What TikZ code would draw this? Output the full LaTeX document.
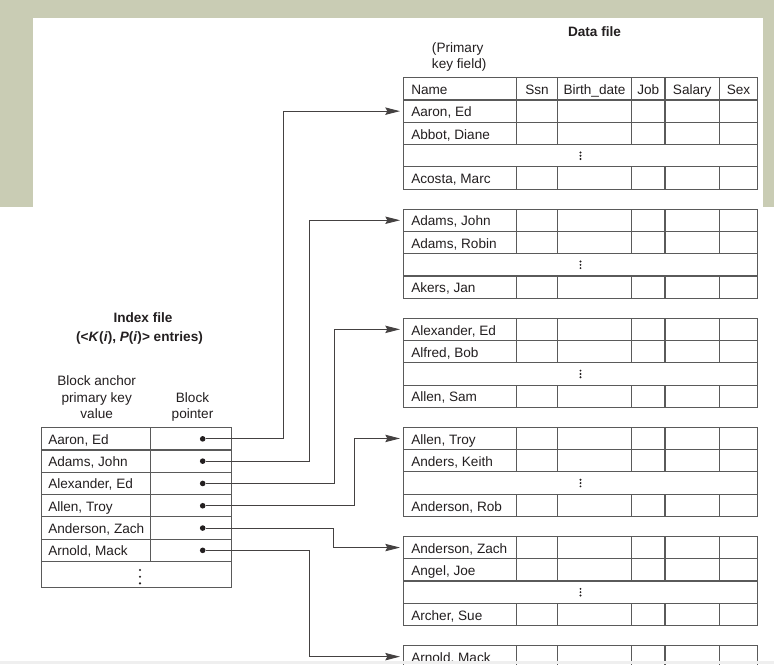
\documentclass[tikz,border=0pt]{standalone}
\usepackage{fontspec}
\setmainfont{Liberation Sans}
\usetikzlibrary{arrows.meta,positioning,calc}
\definecolor{paper}{HTML}{C9CCB4}
\definecolor{ink}{HTML}{231F20}
\definecolor{rule}{HTML}{5A5A5A}
\definecolor{strip}{HTML}{EFEFEF}
\tikzset{tab/.style={draw=rule,line width=0.8pt},ptr/.style={draw=ink!85,line width=0.7pt,-{Stealth[length=11pt,width=5.5pt,inset=1.5pt]}},dot/.style={circle,fill=ink,inner sep=0pt,minimum size=4.2pt},cell/.style={anchor=base west,inner sep=0pt,text=ink},head/.style={anchor=base,inner sep=0pt,text=ink},title/.style={anchor=base,inner sep=0pt,font=\fontsize{10.2}{12.2}\selectfont\bfseries,text=ink}}
\newcommand{\vdt}[4]{\foreach \dd in {-1,0,1} \fill[ink] (#1,#2+#3*\dd) circle (#4);}

\begin{document}
\begin{tikzpicture}[x=0.75pt,y=-0.75pt,font=\fontsize{10.2}{12.2}\selectfont]
  \clip (0,0) rectangle (774,664);
  % backdrop and page
  \fill[paper] (0,0) rectangle (774,664);
  \fill[white] (33,18) rectangle (763,207.3);
  \fill[white] (0,207.3) rectangle (774,664);
  % data file heading
  \node[title] (dtitle) at (594.5,36) {Data file};
  \node[cell,align=left] (keynote) at (431.7,68.3) {(Primary\\key field)};
  \draw[tab] (403.3,77.3) rectangle (757.7,100);
  \foreach \cx in {516.7,557.3,631.7,665,719.3} \draw[tab] (\cx,77.3) -- (\cx,100);
  \node[cell] (hname) at (411,94.5) {Name};
  \foreach \cx/\lbl [count=\c] in {537/Ssn,594.5/Birth\_date,648.3/Job,692.2/Salary,738.5/Sex}
    \node[head] (h\c) at (\cx,94.5) {\lbl};
  % data blocks
  \foreach \k/\ra/\rb/\rc in {1/{Aaron, Ed}/{Abbot, Diane}/{Acosta, Marc},2/{Adams, John}/{Adams, Robin}/{Akers, Jan},3/{Alexander, Ed}/{Alfred, Bob}/{Allen, Sam},4/{Allen, Troy}/{Anders, Keith}/{Anderson, Rob},5/{Anderson, Zach}/{Angel, Joe}/{Archer, Sue},6/{Arnold, Mack}/{}/{}} {
    \pgfmathsetmacro\T{100+109.1*(\k-1)}
    \draw[tab] (403.3,\T) rectangle (757.7,\T+89.2);
    \foreach \r in {1,2,3} \draw[tab] (403.3,\T+22.3*\r) -- (757.7,\T+22.3*\r);
    \foreach \cx in {516.7,557.3,631.7,665,719.3} {
      \draw[tab] (\cx,\T) -- (\cx,\T+44.6);
      \draw[tab] (\cx,\T+66.9) -- (\cx,\T+89.2);
    }
    \node[cell] (na\k) at (411,\T+16.8) {\ra};
    \node[cell] (nb\k) at (411,\T+39.1) {\rb};
    \node[cell] (nc\k) at (411,\T+83.7) {\rc};
    \vdt{580.5}{\T+55.75}{3.3}{0.8pt}
    \coordinate (b\k) at (400,\T+11.15);
  }
  % index file
  \node[title] (ititle) at (143,322.3) {Index file};
  \node[title] (isub) at (139.5,341.5) {(<\textit{K}(\textit{i}), \textit{P}(\textit{i})> entries)};
  \node[head,align=center] (anchorhd) at (96.7,418.3) {Block anchor\\primary key\\value};
  \node[head,align=center] (ptrhd) at (192.5,418.3) {Block\\pointer};
  \draw[tab] (41.7,427.7) rectangle (231.3,587.3);
  \foreach \r in {1,...,6} \draw[tab] (41.7,427.7+22.3*\r) -- (231.3,427.7+22.3*\r);
  \draw[tab] (150.3,427.7) -- (150.3,561.5);
  \vdt{140}{576.7}{6.7}{0.9pt}
  \foreach \i/\nm in {1/{Aaron, Ed},2/{Adams, John},3/{Alexander, Ed},4/{Allen, Troy},5/{Anderson, Zach},6/{Arnold, Mack}} {
    \node[cell] (ix\i) at (48,427.7+22.3*\i-5.7) {\nm};
    \node[dot] (p\i) at (202.7,427.7+22.3*\i-11.15) {};
  }
  % block pointers
  \foreach \i/\bx in {1/283.3,2/309,3/334,4/354,5/333.3,6/309} {
    \coordinate (k\i) at (\bx,0);
    \draw[ptr] (p\i) -- (p\i -| k\i) |- (b\i);
  }
  \fill[strip] (0,661) rectangle (774,664);
\end{tikzpicture}
\end{document}
